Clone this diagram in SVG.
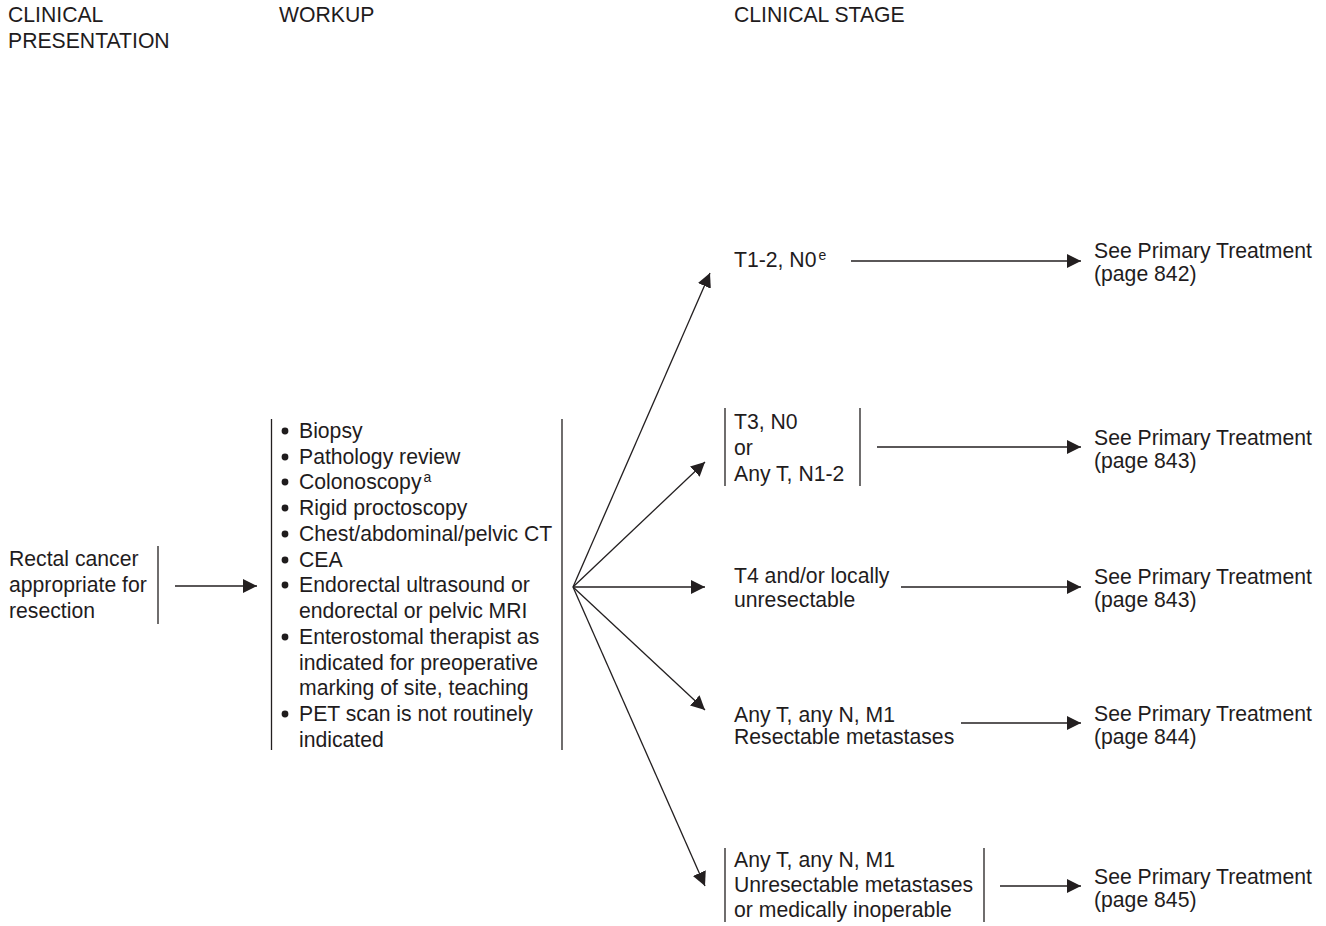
<svg xmlns="http://www.w3.org/2000/svg" width="1326" height="926" viewBox="0 0 1326 926">
  <style>
    text { font-family: "Liberation Sans", Arial, Helvetica, sans-serif; font-size: 21.2px; fill: #1f1c1d; }
    .sup { font-size: 14px; }
    .dot { fill: #1f1c1d; }
    .bar { stroke: #231f20; stroke-width: 1.3; fill: none; }
    .conn { stroke: #231f20; stroke-width: 1.3; fill: none; marker-end: url(#arrow); }
  </style>
  <defs>
    <marker id="arrow" markerUnits="userSpaceOnUse" markerWidth="16" markerHeight="16" refX="14" refY="8" orient="auto">
      <path d="M0,1 L14,8 L0,15 z" fill="#231f20"/>
    </marker>
  </defs>
  <rect width="1326" height="926" fill="#ffffff"/>

  <!-- column headings -->
  <g id="headings">
    <text x="8" y="22">CLINICAL</text>
    <text x="8" y="48">PRESENTATION</text>
    <text x="279" y="22">WORKUP</text>
    <text x="734" y="22">CLINICAL STAGE</text>
  </g>

  <!-- presentation -->
  <g id="presentation">
    <text x="9" y="566">Rectal cancer</text>
    <text x="9" y="592">appropriate for</text>
    <text x="9" y="618">resection</text>
    <line class="bar" x1="158" y1="546" x2="158" y2="624"/>
  </g>

  <!-- workup list -->
  <g id="workup">
    <line class="bar" x1="271.5" y1="419" x2="271.5" y2="750"/>
    <line class="bar" x1="562" y1="419" x2="562" y2="750"/>
    <g class="dot">
      <circle cx="285" cy="431" r="3.4"/>
      <circle cx="285" cy="457" r="3.4"/>
      <circle cx="285" cy="482" r="3.4"/>
      <circle cx="285" cy="508" r="3.4"/>
      <circle cx="285" cy="534" r="3.4"/>
      <circle cx="285" cy="560" r="3.4"/>
      <circle cx="285" cy="585" r="3.4"/>
      <circle cx="285" cy="637" r="3.4"/>
      <circle cx="285" cy="714" r="3.4"/>
    </g>
    <text x="299" y="438">Biopsy</text>
    <text x="299" y="464">Pathology review</text>
    <text x="299" y="489">Colonoscopy<tspan class="sup" dx="2" dy="-7">a</tspan></text>
    <text x="299" y="515">Rigid proctoscopy</text>
    <text x="299" y="541">Chest/abdominal/pelvic CT</text>
    <text x="299" y="567">CEA</text>
    <text x="299" y="592">Endorectal ultrasound or</text>
    <text x="299" y="618">endorectal or pelvic MRI</text>
    <text x="299" y="644">Enterostomal therapist as</text>
    <text x="299" y="670">indicated for preoperative</text>
    <text x="299" y="695">marking of site, teaching</text>
    <text x="299" y="721">PET scan is not routinely</text>
    <text x="299" y="747">indicated</text>
  </g>

  <!-- clinical stages -->
  <g id="stage-t12n0">
    <text x="734" y="267">T1-2, N0<tspan class="sup" dx="2" dy="-7">e</tspan></text>
  </g>
  <g id="stage-t3">
    <line class="bar" x1="725" y1="408" x2="725" y2="486"/>
    <line class="bar" x1="860" y1="408" x2="860" y2="486"/>
    <text x="734" y="429">T3, N0</text>
    <text x="734" y="455">or</text>
    <text x="734" y="481">Any T, N1-2</text>
  </g>
  <g id="stage-t4">
    <text x="734" y="583">T4 and/or locally</text>
    <text x="734" y="607">unresectable</text>
  </g>
  <g id="stage-m1-resectable">
    <text x="734" y="722">Any T, any N, M1</text>
    <text x="734" y="744">Resectable metastases</text>
  </g>
  <g id="stage-m1-unresectable">
    <line class="bar" x1="725" y1="848" x2="725" y2="922"/>
    <line class="bar" x1="984" y1="848" x2="984" y2="922"/>
    <text x="734" y="867">Any T, any N, M1</text>
    <text x="734" y="892">Unresectable metastases</text>
    <text x="734" y="917">or medically inoperable</text>
  </g>

  <!-- primary treatment references -->
  <g id="tx-842">
    <text x="1094" y="258">See Primary Treatment</text>
    <text x="1094" y="281">(page 842)</text>
  </g>
  <g id="tx-843a">
    <text x="1094" y="445">See Primary Treatment</text>
    <text x="1094" y="468">(page 843)</text>
  </g>
  <g id="tx-843b">
    <text x="1094" y="584">See Primary Treatment</text>
    <text x="1094" y="607">(page 843)</text>
  </g>
  <g id="tx-844">
    <text x="1094" y="721">See Primary Treatment</text>
    <text x="1094" y="744">(page 844)</text>
  </g>
  <g id="tx-845">
    <text x="1094" y="884">See Primary Treatment</text>
    <text x="1094" y="907">(page 845)</text>
  </g>

  <!-- connectors -->
  <g id="connectors">
    <line class="conn" x1="175" y1="586" x2="257" y2="586"/>
    <line class="conn" x1="573" y1="587" x2="710" y2="273"/>
    <line class="conn" x1="573" y1="587" x2="705" y2="462"/>
    <line class="conn" x1="573" y1="587" x2="705" y2="587"/>
    <line class="conn" x1="573" y1="587" x2="705" y2="710"/>
    <line class="conn" x1="573" y1="587" x2="705" y2="886"/>
    <line class="conn" x1="851" y1="261" x2="1081" y2="261"/>
    <line class="conn" x1="877" y1="447" x2="1081" y2="447"/>
    <line class="conn" x1="901" y1="587" x2="1081" y2="587"/>
    <line class="conn" x1="961" y1="723" x2="1081" y2="723"/>
    <line class="conn" x1="1000" y1="886" x2="1081" y2="886"/>
  </g>
</svg>
